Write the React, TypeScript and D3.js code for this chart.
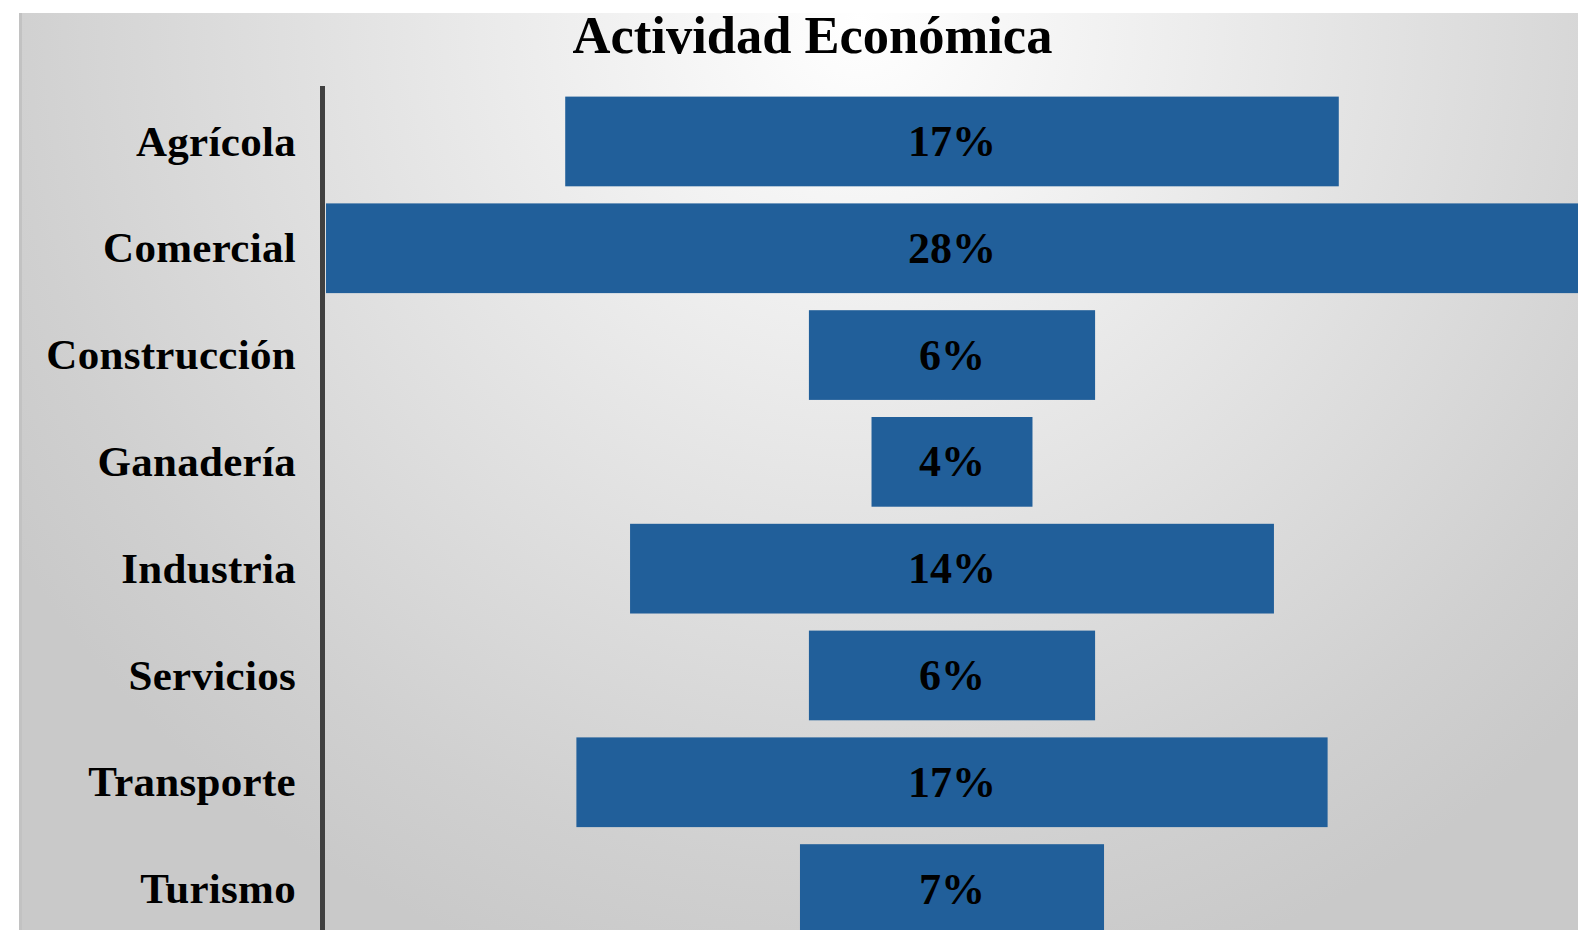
import React from "react";
import * as d3 from "d3";

const categories = ["Agrícola", "Comercial", "Construcción", "Ganadería", "Industria", "Servicios", "Transporte", "Turismo"];
const values = [17.3, 28.0, 6.4, 3.6, 14.4, 6.4, 16.8, 6.8];
const title = "Actividad Económica";

const W = 1578;
const H = 930;

export default function App() {
  const x = d3.scaleLinear().domain([-14, 14]).range([326, 1578]);
  const step = 106.8;
  const y0 = 96.6 - step * 0.08;
  const y = d3
    .scaleBand<string>()
    .domain(categories)
    .range([y0, y0 + step * categories.length])
    .paddingInner(0.16)
    .paddingOuter(0.08);
  const fmt = (v: number) => d3.format(".0%")(v / 100);
  const font = "'Liberation Serif', 'Times New Roman', serif";

  return (
    <svg
      width={W}
      height={H}
      style={{ position: "fixed", left: 0, top: 0, display: "block" }}
    >
      <defs>
        <radialGradient id="bg" gradientUnits="userSpaceOnUse" cx={860} cy={20} r={1000}>
          <stop offset="0" stopColor="#ffffff" />
          <stop offset="0.85" stopColor="#d0d0d0" />
          <stop offset="1" stopColor="#c9c9c9" />
        </radialGradient>
        <clipPath id="clip">
          <rect x={19} y={13} width={W - 19} height={H - 13} />
        </clipPath>
      </defs>
      <rect x={0} y={0} width={W} height={H} fill="#ffffff" />
      <rect x={19} y={13} width={W - 19} height={H - 13} fill="url(#bg)" />
      <rect x={19} y={13} width={3} height={H - 13} fill="#c2c2c2" />
      <g clipPath="url(#clip)">
        {categories.map((c, i) => (
          <rect
            key={c}
            x={x(-values[i] / 2)}
            y={y(c)}
            width={x(values[i] / 2) - x(-values[i] / 2)}
            height={y.bandwidth()}
            fill="#215f9a"
          />
        ))}
        <rect x={320} y={86} width={5} height={H - 86} fill="#404040" />
        {categories.map((c) => (
          <text
            key={"l" + c}
            x={296}
            y={(y(c) as number) + y.bandwidth() / 2}
            dy="0.33em"
            textAnchor="end"
            fontFamily={font}
            fontWeight="bold"
            fontSize={43}
            letterSpacing={0.3}
            fill="#000"
          >
            {c}
          </text>
        ))}
        {categories.map((c, i) => (
          <text
            key={"v" + c}
            x={x(0)}
            y={(y(c) as number) + y.bandwidth() / 2}
            dy="0.33em"
            textAnchor="middle"
            fontFamily={font}
            fontWeight="bold"
            fontSize={44}
            fill="#000"
          >
            {fmt(values[i])}
          </text>
        ))}
        <text
          x={812.5}
          y={53}
          textAnchor="middle"
          fontFamily={font}
          fontWeight="bold"
          fontSize={52.5}
          fill="#000"
        >
          {title}
        </text>
      </g>
    </svg>
  );
}
